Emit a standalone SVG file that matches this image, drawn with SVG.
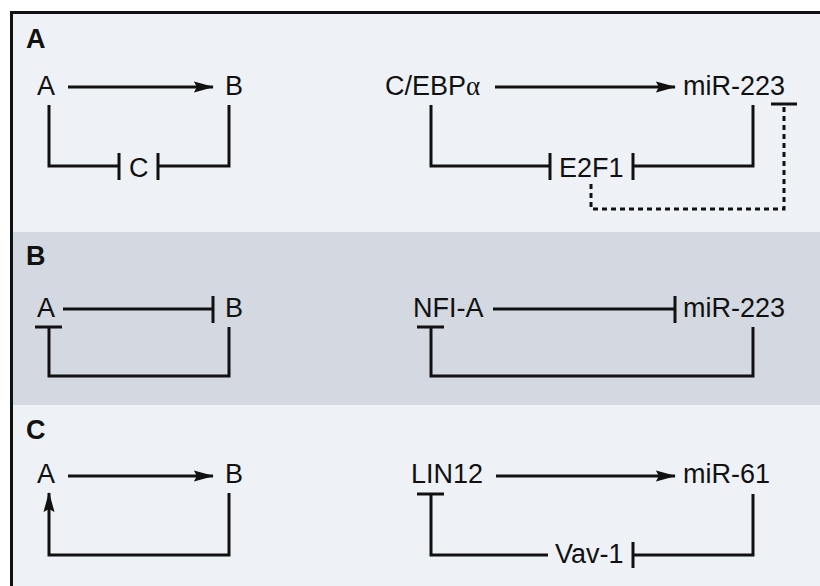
<svg xmlns="http://www.w3.org/2000/svg" width="820" height="586" viewBox="0 0 820 586">
<defs>
<style>
.lbl{font-family:"Liberation Sans",Arial,sans-serif;font-size:27px;font-weight:bold;fill:#111}
.t{font-family:"Liberation Sans",Arial,sans-serif;font-size:27px;fill:#111}
.c{fill:none;stroke:#111;stroke-width:3;stroke-linecap:butt;stroke-linejoin:miter}
.d{fill:none;stroke:#111;stroke-width:3;stroke-dasharray:5 4}
</style>
<marker id="arr" viewBox="0 0 20 11" refX="19" refY="5.5" markerWidth="6.7" markerHeight="3.7" markerUnits="strokeWidth" orient="auto">
<path d="M0,0 L20,5.5 L0,11 L3,5.5 Z" fill="#111"/>
</marker>
</defs>
<rect x="0" y="0" width="820" height="586" fill="#ffffff"/>
<rect x="11" y="12" width="809" height="220" fill="#eef2f6"/>
<rect x="11" y="232" width="809" height="173" fill="#d3d8e1"/>
<rect x="11" y="405" width="809" height="181" fill="#eef2f6"/>
<path d="M11.5,586 V12.5 H820" fill="none" stroke="#111" stroke-width="3"/>

<g id="panel-labels">
<text class="lbl" x="26" y="48">A</text>
<text class="lbl" x="26" y="265">B</text>
<text class="lbl" x="26" y="439">C</text>
</g>

<g id="nodes">
<g id="a-A"><text class="t" x="37" y="95">A</text></g>
<g id="a-B"><text class="t" x="225" y="95">B</text></g>
<g id="a-C"><text class="t" x="129" y="177">C</text></g>
<g id="a-CEBPa"><text class="t" x="385" y="95">C/EBP<tspan font-family="'Liberation Serif',serif">α</tspan></text></g>
<g id="a-miR223"><text class="t" x="683" y="95">miR-223</text></g>
<g id="a-E2F1"><text class="t" x="559" y="177">E2F1</text></g>
<g id="b-A"><text class="t" x="37" y="317">A</text></g>
<g id="b-B"><text class="t" x="225" y="317">B</text></g>
<g id="b-NFIA"><text class="t" x="413" y="317">NFI-A</text></g>
<g id="b-miR223"><text class="t" x="683" y="317">miR-223</text></g>
<g id="c-A"><text class="t" x="37" y="483">A</text></g>
<g id="c-B"><text class="t" x="225" y="483">B</text></g>
<g id="c-LIN12"><text class="t" x="411" y="483">LIN12</text></g>
<g id="c-miR61"><text class="t" x="683" y="483">miR-61</text></g>
<g id="c-Vav1"><text class="t" x="555" y="563">Vav-1</text></g>
</g>

<g id="connectors">
<!-- Panel A left -->
<line class="c" x1="68" y1="87" x2="213" y2="87" marker-end="url(#arr)"/>
<path class="c" d="M49,105 V166 H119"/>
<line class="c" x1="119" y1="153" x2="119" y2="180"/>
<path class="c" d="M229,105 V166 H158"/>
<line class="c" x1="158" y1="153" x2="158" y2="180"/>
<!-- Panel A right -->
<line class="c" x1="495" y1="87" x2="675" y2="87" marker-end="url(#arr)"/>
<path class="c" d="M431,105 V166 H550"/>
<line class="c" x1="550" y1="153" x2="550" y2="180"/>
<path class="c" d="M753,105 V166 H633"/>
<line class="c" x1="633" y1="153" x2="633" y2="180"/>
<path class="d" d="M591,184 V209 H784 V106"/>
<line class="c" x1="771" y1="104" x2="797" y2="104"/>
<!-- Panel B left -->
<line class="c" x1="63" y1="309" x2="213" y2="309"/>
<line class="c" x1="213" y1="296" x2="213" y2="323"/>
<path class="c" d="M229,327 V376 H49 V327"/>
<line class="c" x1="35" y1="327" x2="62" y2="327"/>
<!-- Panel B right -->
<line class="c" x1="493" y1="309" x2="675" y2="309"/>
<line class="c" x1="675" y1="296" x2="675" y2="323"/>
<path class="c" d="M753,327 V376 H431 V327"/>
<line class="c" x1="417" y1="327" x2="444" y2="327"/>
<!-- Panel C left -->
<line class="c" x1="68" y1="476" x2="213" y2="476" marker-end="url(#arr)"/>
<path class="c" d="M229,493 V555 H49 V493" marker-end="url(#arr)"/>
<!-- Panel C right -->
<line class="c" x1="496" y1="476" x2="675" y2="476" marker-end="url(#arr)"/>
<path class="c" d="M548,555 H431 V494"/>
<line class="c" x1="417" y1="494" x2="444" y2="494"/>
<path class="c" d="M753,494 V555 H633"/>
<line class="c" x1="633" y1="542" x2="633" y2="568"/>
</g>
</svg>
